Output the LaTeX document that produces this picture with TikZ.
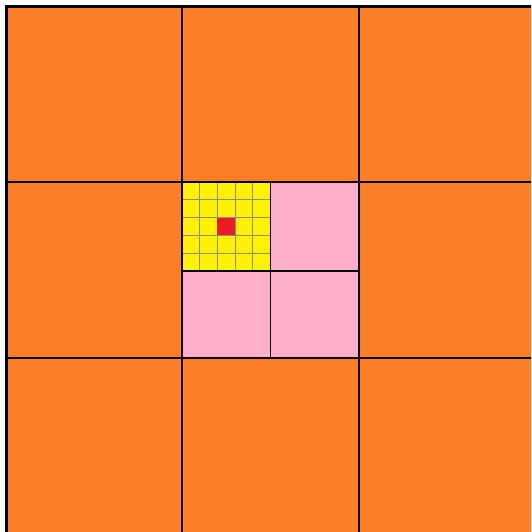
\documentclass[tikz,border=0pt]{standalone}
\definecolor{paintorange}{RGB}{255,127,39}
\definecolor{paintpink}{RGB}{255,174,201}
\definecolor{paintyellow}{RGB}{255,242,0}
\definecolor{paintred}{RGB}{237,28,36}
\tikzset{
  gridline/.style={draw=black,line width=1.3pt},
  fineline/.style={draw=black!45,line width=0.9pt},
  borderline/.style={draw=black,line width=3pt},
}
\begin{document}
\begin{tikzpicture}[x=1pt,y=-1pt]
\useasboundingbox (0,0) rectangle (531,532);
\begin{scope}
\clip (0,0) rectangle (531,532);
\fill[white] (0,0) rectangle (531,532);
% orange background
\fill[paintorange] (6.5,6.5) rectangle (540,540);
% pink block
\fill[paintpink] (182,182) rectangle (359,358);
% yellow block
\fill[paintyellow] (182,182) rectangle (270.5,271);
% fine grid in the yellow block
\foreach \i in {1,2,3,4} {
  \draw[fineline] ({182+\i*17.7},182) -- ({182+\i*17.7},271);
  \draw[fineline] (182,{182+\i*17.8}) -- (270.5,{182+\i*17.8});
}
% red cell
\fill[paintred] (217.4,217.6) rectangle (235.1,235.4);
% outer grid
\draw[gridline] (182,6.5) -- (182,540);
\draw[gridline] (359,6.5) -- (359,540);
\draw[gridline] (6.5,182) -- (540,182);
\draw[gridline] (6.5,358) -- (540,358);
% inner split of the middle cell
\draw[gridline] (270.5,182) -- (270.5,358);
\draw[gridline] (182,271) -- (359,271);
% outer border (left and top)
\draw[borderline] (6.5,540) -- (6.5,6.5) -- (540,6.5);
\end{scope}
\end{tikzpicture}
\end{document}
